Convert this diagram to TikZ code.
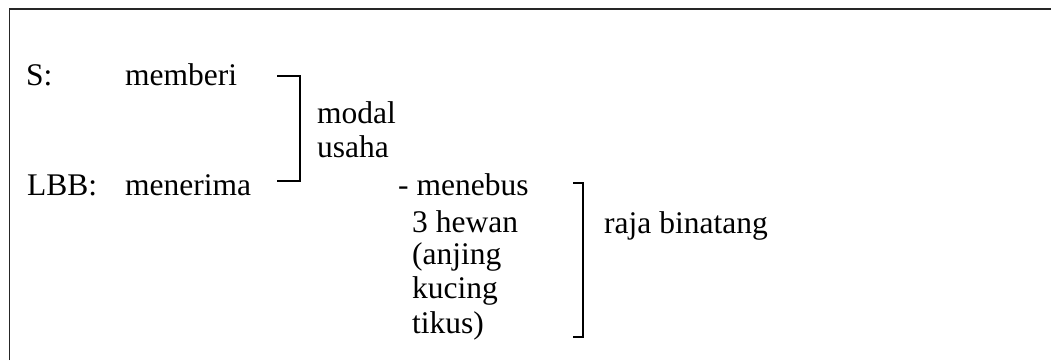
\documentclass[tikz,border=0pt]{standalone}
\usepackage{fontspec}
\setmainfont{Liberation Serif}
\begin{document}
\begin{tikzpicture}[x=1pt,y=-1pt,
  txt/.style={anchor=base west, inner sep=0pt, font=\fontsize{31.5}{36}\selectfont},
  brk/.style={line width=1.3pt, line join=miter},
  frame/.style={line width=1.4pt, draw=black!85}]
\useasboundingbox (0,0) rectangle (1051,360);
% open frame: left and top edges
\coordinate (fb) at (9.5,360);
\coordinate (fc) at (9.5,9);
\coordinate (fr) at (1051,9);
\draw[frame] (fb) -- (fc) -- (fr);

% speaker lines
\node[txt] (s)  at (26,85)  {S:};
\node[txt] (sv) at (125,85) {memberi};
\node[txt] (l)  at (27,195) {LBB:};
\node[txt] (lv) at (125,195) {menerima};

% first bracket and its label
\coordinate (b1a) at (277,76);
\coordinate (b1b) at (300,76);
\coordinate (b1c) at (300,181);
\coordinate (b1d) at (277,181);
\draw[brk] (b1a) -- (b1b) -- (b1c) -- (b1d);
\node[txt] (m1) at (317,123) {modal};
\node[txt] (m2) at (317,157) {usaha};

% list of actions
\node[txt] (n1) at (398,195) {- menebus};
\node[txt] (n2) at (412,232) {3 hewan};
\node[txt] (n3) at (412,264) {(anjing};
\node[txt] (n4) at (412,298) {kucing};
\node[txt] (n5) at (412,333) {tikus)};

% second bracket and its label
\coordinate (b2a) at (573,183);
\coordinate (b2b) at (583,183);
\coordinate (b2c) at (583,337);
\coordinate (b2d) at (573,337);
\draw[brk] (b2a) -- (b2b) -- (b2c) -- (b2d);
\node[txt] (r) at (604,233) {raja binatang};
\end{tikzpicture}
\end{document}
